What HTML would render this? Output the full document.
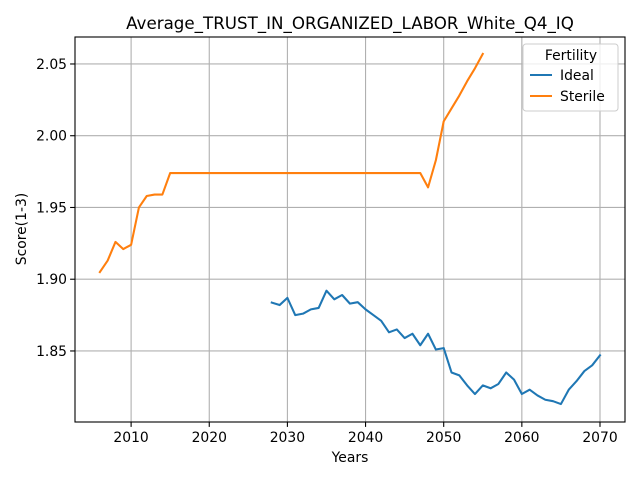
<!DOCTYPE html>
<html><head><meta charset="utf-8"><style>
body{margin:0;background:#fff;font-family:"Liberation Sans","DejaVu Sans",sans-serif;}
svg text{font-family:"DejaVu Sans","Liberation Sans",sans-serif;}
</style></head><body>
<svg id="chart" width="640" height="480" xmlns="http://www.w3.org/2000/svg"></svg>
<script>
const sterileYears=[2006,2007,2008,2009,2010,2011,2012,2013,2014,2015,2047,2048,2049,2050,2051,2052,2053,2054,2055];
const sterileValues=[1.905,1.913,1.926,1.921,1.924,1.950,1.958,1.959,1.959,1.974,1.974,1.964,1.983,2.010,2.019,2.028,2.038,2.047,2.057];
const idealYears=[2028,2029,2030,2031,2032,2033,2034,2035,2036,2037,2038,2039,2040,2041,2042,2043,2044,2045,2046,2047,2048,2049,2050,2051,2052,2053,2054,2055,2056,2057,2058,2059,2060,2061,2062,2063,2064,2065,2066,2067,2068,2069,2070];
const idealValues=[1.8837,1.882,1.887,1.875,1.876,1.879,1.880,1.892,1.886,1.889,1.883,1.884,1.879,1.875,1.871,1.863,1.865,1.859,1.862,1.854,1.862,1.851,1.852,1.835,1.833,1.826,1.820,1.826,1.824,1.827,1.835,1.830,1.820,1.823,1.819,1.816,1.815,1.813,1.823,1.829,1.836,1.840,1.847];
const xTicks=[2010,2020,2030,2040,2050,2060,2070];
const yTicks=[1.85,1.90,1.95,2.00,2.05];
const L=75,R=625,T=37,B=422;
const xMin=2002.82,xMax=2073.2,yMin=1.8005,yMax=2.0688;
const X=v=>L+(v-xMin)/(xMax-xMin)*(R-L);
const Y=v=>B-(v-yMin)/(yMax-yMin)*(B-T);
const svg=document.getElementById('chart');
const NS='http://www.w3.org/2000/svg';
function mk(tag,attrs,parent){const e=document.createElementNS(NS,tag);for(const k in attrs)e.setAttribute(k,attrs[k]);(parent||svg).appendChild(e);return e;}
xTicks.forEach(t=>{
 const g=mk('line',{x1:X(t),x2:X(t),y1:T,y2:B,stroke:'#b0b0b0','stroke-width':1.1});
 
 
 mk('line',{x1:X(t),x2:X(t),y1:B,y2:B+4.9,stroke:'#000','stroke-width':1.1});
 const tx=mk('text',{x:X(t),y:B+20,'text-anchor':'middle','font-size':13.9});
 tx.textContent=t;
 
 
});
yTicks.forEach(t=>{
 const g=mk('line',{x1:L,x2:R,y1:Y(t),y2:Y(t),stroke:'#b0b0b0','stroke-width':1.1});
 
 
 mk('line',{x1:L-4.9,x2:L,y1:Y(t),y2:Y(t),stroke:'#000','stroke-width':1.1});
 const tx=mk('text',{x:L-8,y:Y(t)+5,'text-anchor':'end','font-size':13.9});
 tx.textContent=t.toFixed(2);
 
 
});
function line(xs,ys,color,name){
 const p=mk('polyline',{points:xs.map((x,i)=>X(x)+','+Y(ys[i])).join(' '),fill:'none',stroke:color,'stroke-width':2.08,'stroke-linejoin':'round','stroke-linecap':'square'});
 
 
}
line(sterileYears,sterileValues,'#ff7f0e','sterile-line');
line(idealYears,idealValues,'#1f77b4','ideal-line');
const fr=mk('rect',{x:L,y:T,width:R-L,height:B-T,fill:'none',stroke:'#000','stroke-width':1.1});


</script>
<svg style="position:absolute;left:0;top:0" width="640" height="480" xmlns="http://www.w3.org/2000/svg">
<text x="350" y="29" text-anchor="middle" font-size="16.7">Average_TRUST_IN_ORGANIZED_LABOR_White_Q4_IQ</text>
<text x="350" y="462" text-anchor="middle" font-size="13.9">Years</text>
<text x="26" y="229" text-anchor="middle" font-size="13.9" transform="rotate(-90 26 229)">Score(1-3)</text>
<g>
<rect x="523" y="44" width="95" height="67" rx="3" fill="#fff" fill-opacity="0.8" stroke="#ccc"/>
<text x="571" y="60" text-anchor="middle" font-size="13.9">Fertility</text>
<line x1="530" x2="552" y1="75" y2="75" stroke="#1f77b4" stroke-width="2.08"/>
<text x="560" y="80" font-size="13.9">Ideal</text>
<line x1="530" x2="552" y1="96" y2="96" stroke="#ff7f0e" stroke-width="2.08"/>
<text x="560" y="101" font-size="13.9">Sterile</text>
</g>
</svg>
</body></html>
